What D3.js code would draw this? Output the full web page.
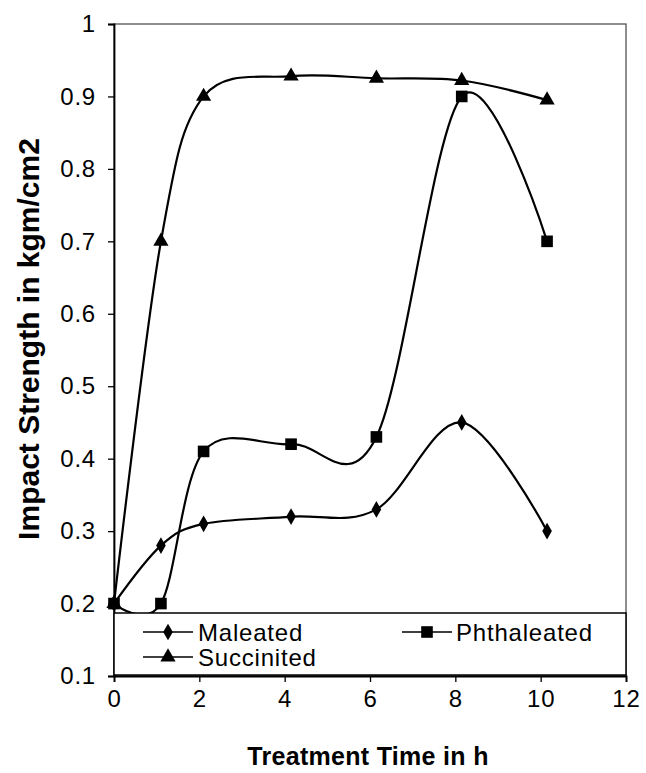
<!DOCTYPE html>
<html>
<head>
<meta charset="utf-8">
<script src="https://cdn.jsdelivr.net/npm/d3@7"></script>
<style>
  html, body { margin: 0; padding: 0; background: #fff; }
  svg { display: block; }
  text { font-family: "Liberation Sans", Arial, sans-serif; fill: #000; }
</style>
</head>
<body>
<svg id="chart" width="646" height="773"></svg>
<script>
// Impact strength versus treatment time for three anhydride treatments
const hours = [0, 1.1, 2.1, 4.15, 6.15, 8.15, 10.15];
const maleated = [0.2, 0.28, 0.31, 0.32, 0.33, 0.45, 0.3];
const phthaleated = [0.2, 0.2, 0.41, 0.42, 0.43, 0.9, 0.7];
const succinited = [0.2, 0.7, 0.9, 0.928, 0.925, 0.922, 0.895];
const seriesNames = ["Maleated", "Phthaleated", "Succinited"];
const markerTypes = ["diamond", "square", "triangle"];
const xTicks = [0, 2, 4, 6, 8, 10, 12];
const yTicks = [0.1, 0.2, 0.3, 0.4, 0.5, 0.6, 0.7, 0.8, 0.9, 1];

const svg = d3.select("#chart");
const plotLeft = 114, plotRight = 626, plotTop = 24, plotBottom = 676;

const x = d3.scaleLinear().domain([0, 12]).range([plotLeft, plotRight]);
const y = d3.scaleLinear().domain([0.1, 1]).range([plotBottom, plotTop]);

// plot frame
svg.append("rect")
  .attr("x", plotLeft).attr("y", plotTop)
  .attr("width", plotRight - plotLeft).attr("height", plotBottom - plotTop)
  .attr("fill", "none").attr("stroke", "#444").attr("stroke-width", 1.2);

// axes
const yAxis = svg.append("g").attr("transform", `translate(${plotLeft},0)`)
  .call(d3.axisLeft(y).tickValues(yTicks).tickSize(6).tickPadding(12)
    .tickFormat(d => d === 1 ? "1" : d3.format(".1f")(d)));
const xAxis = svg.append("g").attr("transform", `translate(0,${plotBottom})`)
  .call(d3.axisBottom(x).tickValues(xTicks).tickSize(6).tickPadding(8)
    .tickFormat(d3.format("d")));
[yAxis, xAxis].forEach(a => {
  a.select(".domain").attr("stroke", "#000").attr("stroke-width", 1.8);
  a.selectAll(".tick line").attr("stroke", "#000").attr("stroke-width", 1.3);
  a.selectAll(".tick text").attr("font-size", 24)
    .attr("letter-spacing", "0.8px")
    .attr("font-family", "Liberation Sans, Arial, sans-serif").attr("fill", "#000");
});

// axis titles
svg.append("text")
  .attr("x", 368).attr("y", 765)
  .attr("text-anchor", "middle")
  .attr("font-size", 25).attr("font-weight", "bold")
  .attr("letter-spacing", "0.3px")
  .text("Treatment Time in h");
svg.append("text")
  .attr("transform", "translate(39,339) rotate(-90)")
  .attr("text-anchor", "middle")
  .attr("font-size", 30).attr("font-weight", "bold")
  .text("Impact Strength in kgm/cm2");

// marker shapes
const symbolOf = {
  diamond: d3.symbol().type(d3.symbolDiamond).size(80),
  square: d3.symbol().type(d3.symbolSquare).size(135),
  triangle: d3.symbol().type(d3.symbolTriangle).size(100)
};

const allSeries = [maleated, phthaleated, succinited];
const line = d3.line()
  .x((d, i) => x(hours[i]))
  .y(d => y(d))
  .curve(d3.curveCardinal.tension(0));

const plot = svg.append("g");
allSeries.forEach((vals, s) => {
  plot.append("path")
    .datum(vals)
    .attr("d", line)
    .attr("fill", "none")
    .attr("stroke", "#000")
    .attr("stroke-width", 2.2);
});
allSeries.forEach((vals, s) => {
  plot.selectAll(null)
    .data(vals)
    .enter().append("path")
    .attr("d", symbolOf[markerTypes[s]])
    .attr("transform", (d, i) => `translate(${x(hours[i])},${y(d)})`)
    .attr("fill", "#000");
});

// legend
const lg = svg.append("g");
lg.append("rect")
  .attr("x", plotLeft).attr("y", 613)
  .attr("width", plotRight - plotLeft).attr("height", 62)
  .attr("fill", "#fff").attr("stroke", "#000").attr("stroke-width", 1.5);
const legendPos = [
  { lx: 143, ly: 632, tx: 198 },
  { lx: 402, ly: 632, tx: 456 },
  { lx: 143, ly: 657, tx: 198 }
];
seriesNames.forEach((name, s) => {
  const p = legendPos[s];
  lg.append("line")
    .attr("x1", p.lx).attr("x2", p.lx + 50)
    .attr("y1", p.ly).attr("y2", p.ly)
    .attr("stroke", "#000").attr("stroke-width", 1.5);
  lg.append("path")
    .attr("d", symbolOf[markerTypes[s]])
    .attr("transform", `translate(${p.lx + 25},${p.ly})`)
    .attr("fill", "#000");
  lg.append("text")
    .attr("x", p.tx).attr("y", p.ly + 9)
    .attr("font-size", 24)
    .attr("letter-spacing", "0.8px")
    .text(name);
});
</script>
</body>
</html>
